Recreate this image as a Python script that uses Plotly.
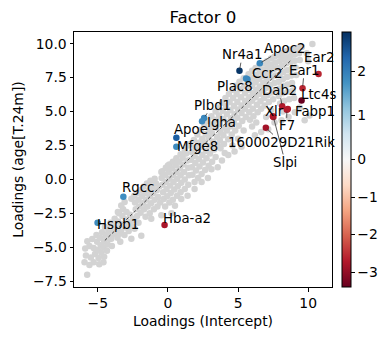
import plotly.graph_objects as go

# ---------------- data ----------------
# background genes (grey), grouped along the diagonal
gray_tail = [(-5.76,-7.03),(-5.95,-6.1),(-5.6,-6.3),(-5.3,-6.1),(-5.85,-5.6),(-5.5,-5.75),(-5.2,-5.5),(-4.95,-5.8),(-4.9,-6.25),(-4.6,-6.1),
             (-5.9,-5.1),(-5.6,-4.9),(-5.3,-5.05),(-5.0,-5.2),(-4.75,-5.4),(-4.55,-5.7),(-5.75,-4.55),(-5.4,-4.4),(-5.05,-4.6),(-4.8,-4.85),
             (-4.6,-5.0),(-4.35,-5.25),(-5.1,-4.1),(-4.85,-4.3),(-4.55,-4.55),(-4.3,-4.8),(-4.7,-3.9),(-4.45,-4.15),(-4.15,-4.4),(-4.0,-4.9)]
gray_low = [(-4.3,-3.6),(-4.05,-3.8),(-3.85,-4.05),(-3.6,-4.3),(-3.4,-4.6),(-4.1,-3.2),(-3.85,-3.4),(-3.6,-3.6),(-3.35,-3.85),(-3.1,-4.1),
            (-3.8,-2.9),(-3.55,-3.1),(-3.3,-3.3),(-3.05,-3.55),(-2.8,-3.8),(-3.5,-2.5),(-3.25,-2.7),(-3.0,-2.95),(-2.75,-3.2),(-2.55,-3.45),
            (-3.2,-2.2),(-2.95,-2.4),(-2.7,-2.6),(-2.5,-2.9),(-3.57,-2.41),(-3.33,-1.92),(-3.09,-1.67),(-2.61,-1.42),(-4.04,-4.37),(-3.8,-3.88),
            (-3.45,-4.0),(-2.85,-3.14),(-2.38,-3.63),(-2.61,-4.37),(-4.5,-3.5),(-4.3,-4.0)]
gray_midlow = [(-2.4,-1.2),(-2.2,-1.0),(-2.0,-0.8),(-1.75,-0.55),(-1.5,-0.3),(-1.25,-0.1),(-2.35,-1.7),(-2.1,-1.5),(-1.85,-1.25),(-1.6,-1.0),
               (-1.35,-0.8),(-1.1,-0.55),(-0.85,-0.3),(-2.3,-2.2),(-2.05,-2.0),(-1.8,-1.75),(-1.55,-1.5),(-1.3,-1.25),(-1.05,-1.0),(-0.8,-0.8),
               (-0.6,-0.5),(-2.2,-2.7),(-1.95,-2.45),(-1.7,-2.2),(-1.45,-2.0),(-1.2,-1.75),(-0.95,-1.5),(-0.7,-1.3),(-2.4,-3.0),(-2.1,-3.2),
               (-1.9,-4.15),(-1.6,-2.75),(-1.3,-2.5),(-1.0,-2.2),(-0.75,-2.0),(-0.55,-1.7),(-1.19,-2.9),(-0.47,-2.65),(-0.95,0.05),(-0.47,0.54)]
gray_mid = [(-0.4,0.6),(-0.15,0.85),(0.1,1.1),(0.35,1.3),(0.6,1.55),(0.9,1.85),(1.2,2.15),(1.45,2.5),
            (-0.45,0.1),(-0.2,0.3),(0.05,0.55),(0.3,0.8),(0.55,1.05),(0.8,1.3),(1.05,1.6),(1.3,1.9),
            (-0.4,-0.4),(-0.15,-0.2),(0.1,0.05),(0.35,0.3),(0.6,0.55),(0.85,0.8),(1.1,1.1),(1.4,1.4),
            (-0.35,-0.95),(-0.1,-0.7),(0.15,-0.45),(0.4,-0.2),(0.65,0.05),(0.9,0.3),(1.15,0.55),(1.45,0.85),
            (-0.3,-1.45),(-0.05,-1.25),(0.2,-1.0),(0.45,-0.75),(0.7,-0.5),(0.95,-0.25),(1.2,0.0),(1.5,0.3),
            (-0.2,-2.0),(0.1,-1.7),(0.35,-1.5),(0.65,-1.2),(0.9,-0.95),(1.2,-0.7),(1.45,-0.4),
            (0.25,-2.5),(0.5,-1.95),(0.95,-1.45),(1.4,-1.2),(0.0,1.03)]
gray_midhigh = [(1.6,2.6),(1.85,2.9),(2.1,3.3),(2.35,3.65),(2.6,3.95),(2.85,4.3),(3.1,4.65),(3.4,5.0),
                (1.7,2.0),(1.95,2.35),(2.2,2.7),(2.45,3.0),(2.7,3.35),(2.95,3.7),(3.2,4.05),(3.45,4.4),
                (1.65,1.45),(1.9,1.75),(2.15,2.05),(2.4,2.4),(2.65,2.7),(2.9,3.05),(3.15,3.4),(3.45,3.8),
                (1.7,0.9),(1.95,1.2),(2.2,1.5),(2.45,1.8),(2.7,2.1),(2.95,2.45),(3.2,2.8),(3.5,3.15),
                (1.75,0.35),(2.0,0.65),(2.25,0.95),(2.5,1.25),(2.75,1.55),(3.0,1.9),(3.3,2.2),(3.55,2.55),
                (1.9,-0.2),(2.15,0.1),(2.4,0.4),(2.65,0.7),(2.9,1.0),(3.15,1.3),(3.4,1.65),
                (1.9,-0.7),(2.4,-0.2),(2.85,0.1),(3.1,0.75),(3.55,0.9)]
gray_upper = [(3.6,5.3),(3.85,5.65),(4.1,6.0),(4.35,6.3),(4.6,6.6),(4.85,6.9),(5.1,7.2),(5.4,7.45),
              (3.65,4.7),(3.9,5.05),(4.15,5.4),(4.4,5.7),(4.65,6.0),(4.9,6.3),(5.15,6.65),(5.45,6.9),
              (3.7,4.1),(3.95,4.45),(4.2,4.8),(4.45,5.1),(4.7,5.4),(4.95,5.7),(5.2,6.05),(5.5,6.35),
              (3.75,3.5),(4.0,3.85),(4.25,4.2),(4.5,4.5),(4.75,4.8),(5.0,5.15),(5.25,5.45),(5.5,5.8),
              (3.7,2.9),(3.95,3.25),(4.2,3.6),(4.45,3.9),(4.7,4.2),(4.95,4.55),(5.25,4.9),(5.5,5.2),
              (3.75,2.3),(4.0,2.6),(4.3,2.95),(4.55,3.3),(4.8,3.6),(5.05,3.95),(5.3,4.3),(5.55,4.6),
              (3.85,1.4),(4.3,1.8),(4.75,2.05),(5.25,2.4),(4.05,1.95),(4.6,2.5),(5.0,3.0),(5.4,3.6)]
gray_high = [(5.75,7.75),(6.0,8.0),(6.25,8.2),(6.5,8.35),(6.8,8.55),(7.05,8.7),(7.35,8.9),(7.6,9.05),
             (5.8,7.2),(6.05,7.45),(6.3,7.7),(6.55,7.95),(6.8,8.1),(7.1,8.3),(7.35,8.45),(7.65,8.6),
             (5.75,6.6),(6.0,6.9),(6.25,7.15),(6.5,7.4),(6.75,7.6),(7.0,7.8),(7.3,8.0),(7.6,8.15),
             (5.8,6.05),(6.05,6.35),(6.3,6.6),(6.55,6.85),(6.8,7.1),(7.05,7.3),(7.35,7.5),(7.65,7.65),
             (5.75,5.5),(6.0,5.8),(6.25,6.05),(6.5,6.3),(6.8,6.55),(7.05,6.75),(7.3,6.95),(7.6,7.1),
             (5.8,4.95),(6.05,5.2),(6.35,5.5),(6.6,5.75),(6.85,6.0),(7.1,6.2),(7.4,6.4),(7.65,6.55),
             (5.85,4.4),(6.1,4.65),(6.4,4.95),(6.65,5.2),(6.9,5.45),(7.2,5.7),(7.5,5.9),
             (6.0,3.9),(6.3,4.2),(6.65,3.5),(7.15,3.7),(7.6,4.2),(7.0,4.6),(7.35,5.1),(6.2,3.25)]
gray_top = [(7.9,9.15),(8.15,9.3),(8.4,9.45),(8.7,9.55),(9.0,9.65),(9.3,9.7),(9.55,9.75),(10.3,9.97),
            (7.95,8.7),(8.2,8.85),(8.45,9.0),(8.75,9.1),(9.05,9.2),(9.35,9.3),
            (7.9,8.2),(8.15,8.4),(8.45,8.55),(8.75,8.65),(9.05,8.75),(9.4,8.8),
            (7.95,7.7),(8.2,7.9),(8.5,8.05),(8.8,8.15),(9.1,8.25),
            (7.9,7.2),(8.2,7.4),(8.5,7.55),(8.8,7.65),(9.15,7.7),
            (7.95,6.7),(8.25,6.9),(8.55,7.0),(8.85,7.1),
            (7.9,6.15),(8.2,6.35),(8.55,6.45),(8.9,6.55),
            (8.0,5.6),(8.3,5.8),(8.65,5.9),(9.0,6.0),
            (8.1,4.35),(8.6,4.6),(9.05,4.95),(8.2,5.0),(9.75,4.35),(10.1,4.7),(9.4,5.3),(9.9,9.3),(10.0,8.7)]

# highlighted genes
genes = ["Nr4a1", "Apoc2", "Plac8", "Ccr2", "Plbd1", "Igha", "Apoe", "Mfge8", "Rgcc", "Hspb1",
         "Ear2", "Ear1", "Ltc4s", "Dab2", "F7", "Fabp1", "Xlr", "Slpi", "1600029D21Rik", "Hba-a2"]
gene_x = [5.1, 6.55, 5.57, 5.67, 2.58, 2.43, 0.6, 0.6, -3.18, -5.02,
          10.74, 9.6, 9.53, 8.15, 8.48, 8.55, 7.48, 7.52, 6.98, -0.24]
gene_y = [8.0, 8.55, 7.43, 7.38, 4.53, 4.29, 3.06, 2.4, -1.28, -3.19,
          7.77, 6.72, 5.81, 5.39, 5.14, 5.18, 4.66, 4.6, 3.8, -3.36]
gene_val = [2.85, 1.9, 1.85, 1.9, 1.9, 1.85, 2.4, 1.85, 1.8, 1.85,
            -2.6, -2.6, -3.4, -2.72, -2.72, -2.7, -2.7, -2.75, -2.85, -2.8]
label_x = [5.3, 8.3, 4.77, 7.12, 3.17, 3.82, 1.62, 2.1, -2.16, -3.57,
           10.8, 9.72, 10.73, 7.93, 8.46, 10.48, 7.63, 8.36, 8.11, 1.34]
label_y = [9.19, 9.65, 6.81, 7.79, 5.46, 4.19, 3.7, 2.4, -0.62, -3.29,
           9.0, 8.04, 6.27, 6.57, 3.94, 5.02, 5.02, 1.25, 2.72, -2.87]
label_leader = [True, True, False, False, True, False, False, False, False, False,
                False, True, False, True, True, False, False, True, True, False]

diag = [-4.5, 8.8]
cbar_ticks = [-3, -2, -1, 0, 1, 2]
vmin, vmax = -3.4, 2.9
x_ticks = [-5, 0, 5, 10]
y_ticks = [-7.5, -5.0, -2.5, 0.0, 2.5, 5.0, 7.5, 10.0]

# ---------------- figure ----------------
FONT = "DejaVu Sans"
rdbu = ["#67001f", "#b2182b", "#d6604d", "#f4a582", "#fddbc7", "#f7f7f7",
        "#d1e5f0", "#92c5de", "#4393c3", "#2166ac", "#053061"]
colorscale = [[i / 10, c] for i, c in enumerate(rdbu)]


def norm(v):
    # two-slope normalisation centred on 0
    return 0.5 + 0.5 * v / vmax if v >= 0 else 0.5 - 0.5 * v / vmin


def fmt(t):
    return ("\u2212" + str(abs(t))) if t < 0 else str(t)


gray_all = gray_tail + gray_low + gray_midlow + gray_mid + gray_midhigh + gray_upper + gray_high + gray_top
gx = [p[0] for p in gray_all]
gy = [p[1] for p in gray_all]

fig = go.Figure()
fig.add_trace(go.Scatter(x=gx, y=gy, mode="markers",
                         marker=dict(color="#d3d3d3", size=6.5, line=dict(width=0)),
                         hoverinfo="skip", showlegend=False))
fig.add_trace(go.Scatter(x=diag, y=diag, mode="lines",
                         line=dict(color="black", width=0.7, dash="3px,2px"),
                         hoverinfo="skip", showlegend=False))
fig.add_trace(go.Scatter(
    x=gene_x, y=gene_y, mode="markers", text=genes, showlegend=False,
    marker=dict(color=[norm(v) for v in gene_val], colorscale=colorscale, cmin=0, cmax=1,
                size=6.5, line=dict(width=0), showscale=True,
                colorbar=dict(x=1.035, xanchor="left", y=0.5, yanchor="middle",
                              len=1, lenmode="fraction", thickness=9, thicknessmode="pixels",
                              xpad=0, ypad=0, outlinewidth=1, outlinecolor="black",
                              ticks="outside", ticklen=3.5, tickwidth=1, tickcolor="black",
                              tickvals=[norm(t) for t in cbar_ticks],
                              ticktext=[fmt(t) for t in cbar_ticks],
                              tickfont=dict(family=FONT, size=13.9, color="black")))))

annotations = []
for g, px_, py_, lx, ly, lead in zip(genes, gene_x, gene_y, label_x, label_y, label_leader):
    if lead:
        annotations.append(dict(x=px_, y=py_, xref="x", yref="y", ax=lx, ay=ly, axref="x", ayref="y",
                                text=g, showarrow=True, arrowhead=0, arrowwidth=0.8, arrowcolor="#333333",
                                standoff=2, borderpad=0, font=dict(family=FONT, size=13.3, color="black")))
    else:
        annotations.append(dict(x=lx, y=ly, xref="x", yref="y", text=g, showarrow=False,
                                borderpad=0, font=dict(family=FONT, size=13.3, color="black")))

axis_common = dict(ticks="outside", ticklen=3.5, tickwidth=1, tickcolor="black",
                   showline=True, linecolor="black", linewidth=1, mirror=True,
                   showgrid=False, zeroline=False,
                   tickfont=dict(family=FONT, size=13.9, color="black"))

fig.update_layout(
    width=390, height=340,
    margin=dict(l=74, r=57, t=32, b=53),
    paper_bgcolor="white", plot_bgcolor="white",
    font=dict(family=FONT, color="black"),
    title=dict(text="Factor 0", x=0.5, xref="paper", xanchor="center",
               y=1 - 17.5 / 340, yref="container", yanchor="middle",
               font=dict(family=FONT, size=16.7, color="black")),
    xaxis=dict(range=[-6.7, 11.7], tickvals=x_ticks,
               title=dict(text="Loadings (Intercept)", standoff=6,
                          font=dict(family=FONT, size=13.9, color="black")),
               **axis_common),
    yaxis=dict(range=[-7.93, 10.86], tickvals=y_ticks, tickformat=".1f",
               title=dict(text="Loadings (age[T.24m])", standoff=6,
                          font=dict(family=FONT, size=13.9, color="black")),
               **axis_common),
    annotations=annotations,
)

fig.write_html("out.html")
